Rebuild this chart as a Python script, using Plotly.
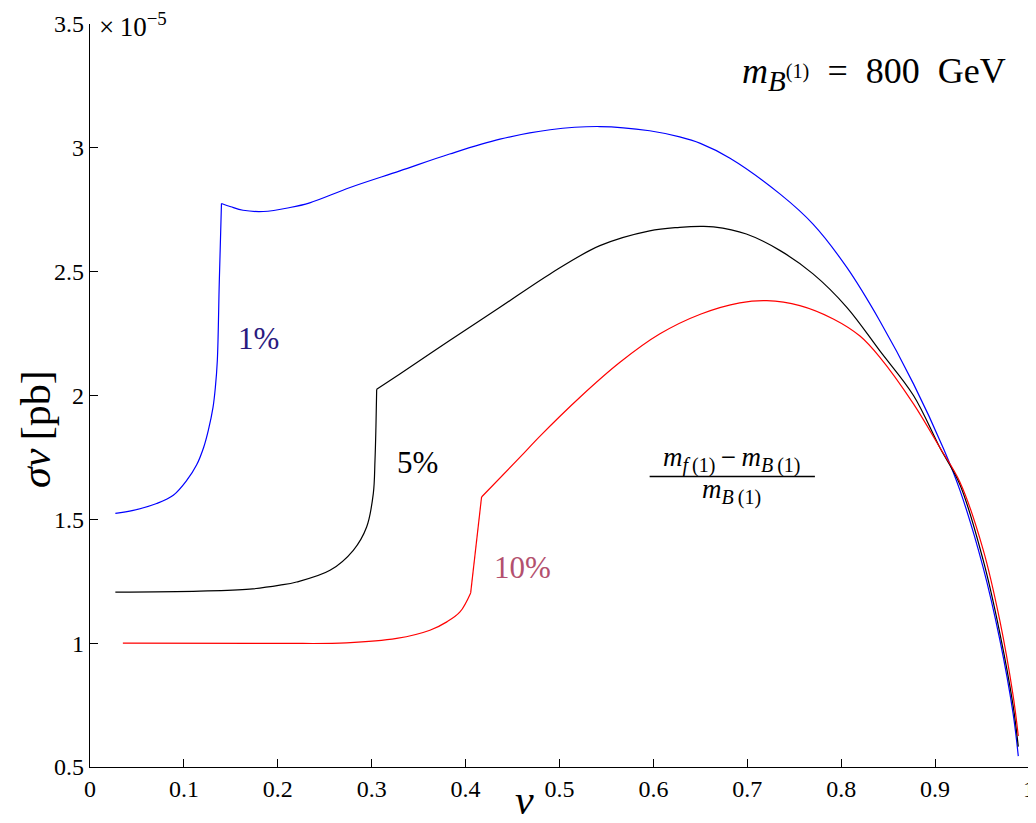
import plotly.graph_objects as go

# ---- data ----
v_1pct = [0.027, 0.046, 0.071, 0.0887, 0.103, 0.1136, 0.121, 0.126, 0.131, 0.1335, 0.1356, 0.1377,
          0.140, 0.150, 0.163, 0.1846, 0.213, 0.234, 0.277, 0.330, 0.383, 0.4366, 0.490, 0.543,
          0.596, 0.628, 0.65, 0.6816, 0.735, 0.770, 0.806, 0.841, 0.877, 0.909, 0.9265, 0.951,
          0.969, 0.983, 0.9886]
s_1pct = [1.524, 1.536, 1.564, 1.597, 1.657, 1.72, 1.79, 1.859, 1.952, 2.033, 2.141, 2.46,
          2.775, 2.762, 2.748, 2.743, 2.759, 2.778, 2.840, 2.907, 2.975, 3.035, 3.073, 3.086,
          3.069, 3.044, 3.018, 2.958, 2.813, 2.692, 2.517, 2.302, 2.047, 1.785, 1.617, 1.308,
          1.012, 0.717, 0.544]
kinks_1pct = [12]          # index of the sharp corner

v_5pct = [0.027, 0.117, 0.17, 0.2023, 0.220, 0.2556, 0.2804, 0.2946, 0.3017, 0.3035, 0.3045,
          0.3053, 0.330, 0.383, 0.4366, 0.490, 0.543, 0.596, 0.628, 0.65, 0.664, 0.699, 0.735,
          0.770, 0.806, 0.841, 0.877, 0.905, 0.9265, 0.951, 0.969, 0.983, 0.9886]
s_5pct = [1.206, 1.21, 1.218, 1.234, 1.247, 1.294, 1.375, 1.469, 1.604, 1.738, 1.872,
          2.025, 2.087, 2.222, 2.356, 2.491, 2.605, 2.665, 2.679, 2.683, 2.681, 2.652, 2.585,
          2.491, 2.356, 2.181, 2.0, 1.79, 1.64, 1.338, 1.04, 0.75, 0.582]
kinks_5pct = [11]

v_10pct = [0.035, 0.2023, 0.273, 0.3266, 0.362, 0.380, 0.394, 0.4054, 0.417, 0.458, 0.479,
           0.5218, 0.5644, 0.607, 0.6507, 0.692, 0.7207, 0.756, 0.7916, 0.82, 0.841, 0.877,
           0.905, 0.9265, 0.951, 0.969, 0.983, 0.9886]
s_10pct = [1.0, 0.999, 1.001, 1.019, 1.052, 1.086, 1.126, 1.203, 1.59, 1.751, 1.835,
           1.993, 2.134, 2.249, 2.329, 2.374, 2.383, 2.363, 2.309, 2.24, 2.155, 1.966,
           1.79, 1.65, 1.38, 1.09, 0.79, 0.625]
kinks_10pct = [7, 8]

x_ticks = [0, 0.1, 0.2, 0.3, 0.4, 0.5, 0.6, 0.7, 0.8, 0.9, 1]
x_ticktext = ["0", "0.1", "0.2", "0.3", "0.4", "0.5", "0.6", "0.7", "0.8", "0.9", "1"]
y_ticks = [0.5, 1, 1.5, 2, 2.5, 3, 3.5]
y_ticktext = ["0.5", "1", "1.5", "2", "2.5", "3", "3.5"]

FONT = "Liberation Serif, DejaVu Serif, serif"

fig = go.Figure()


def add_curve(vx, sy, kinks, col, nm):
    # draw smooth pieces between sharp corners (pieces share the corner point)
    cuts = [0] + kinks + [len(vx) - 1]
    for a, b in zip(cuts[:-1], cuts[1:]):
        fig.add_trace(go.Scatter(x=vx[a:b + 1], y=sy[a:b + 1], mode="lines",
                                 line=dict(color=col, width=1.2, shape="spline", smoothing=1.0),
                                 name=nm, showlegend=False, hoverinfo="x+y"))


add_curve(v_1pct, s_1pct, kinks_1pct, "#0000ff", "1%")
add_curve(v_5pct, s_5pct, kinks_5pct, "#000000", "5%")
add_curve(v_10pct, s_10pct, kinks_10pct, "#ff0000", "10%")


def big_sub(txt, px):
    return "<sub><span style='font-size:%dpx'>%s</span></sub>" % (px, txt)


num_text = ("<i>m</i>" + big_sub("<i>f</i>\u2009(1)", 20) + "\u2009\u2212\u2009<i>m</i>"
            + big_sub("<i>B</i>\u2009(1)", 20))
den_text = "<i>m</i>" + big_sub("<i>B</i>\u2009(1)", 20)
title_text = ("<i>m</i>" + big_sub("<i>B</i><sup>(1)</sup>", 29)
              + "\u2002=\u2002800\u2002GeV")

annots = [
    dict(x=0.179, y=2.23, text="1%", font=dict(size=31, color="#2a1a7f", family=FONT)),
    dict(x=0.349, y=1.73, text="5%", font=dict(size=31, color="#000000", family=FONT)),
    dict(x=0.461, y=1.306, text="10%", font=dict(size=31, color="#b3506e", family=FONT)),
    dict(x=0.683, y=1.74, text=num_text, font=dict(size=27, color="#000000", family=FONT)),
    dict(x=0.683, y=1.612, text=den_text, font=dict(size=27, color="#000000", family=FONT)),
    dict(x=0.835, y=3.30, text=title_text, font=dict(size=36, color="#000000", family=FONT)),
]
for a in annots:
    a.update(xref="x", yref="y", showarrow=False, xanchor="center", yanchor="middle")
    fig.add_annotation(**a)

# exponent multiplier at the top of the y axis
fig.add_annotation(xref="paper", yref="paper", x=0.007, y=0.998, xanchor="left", yanchor="middle",
                   text="\u00d7\u200910<sup>\u22125</sup>", showarrow=False,
                   font=dict(size=27, color="#000000", family=FONT))
# axis titles
fig.add_annotation(xref="paper", yref="paper", x=-0.0575, y=0.455, xanchor="center", yanchor="middle",
                   text="<i>\u03c3v</i>\u2009[pb]", textangle=-90, showarrow=False,
                   font=dict(size=42, color="#000000", family=FONT))
fig.add_annotation(xref="paper", yref="paper", x=0.463, y=-0.045, xanchor="center", yanchor="middle",
                   text="<i>v</i>", showarrow=False,
                   font=dict(size=42, color="#000000", family=FONT))

# fraction bar
fig.add_shape(type="line", xref="x", yref="y", x0=0.596, x1=0.772, y0=1.673, y1=1.673,
              line=dict(color="#000000", width=1.5))

# the page body adds an 8 px offset, so the figure is shrunk by that amount
fig.update_layout(
    width=1028, height=815,
    margin=dict(l=82, r=7, t=16, b=56, autoexpand=False),
    plot_bgcolor="white", paper_bgcolor="white",
    font=dict(family=FONT, size=24, color="#000000"),
    showlegend=False,
)
fig.update_xaxes(range=[0, 1], tickvals=x_ticks, ticktext=x_ticktext, ticks="inside", ticklen=8,
                 tickcolor="#000", showline=True, linecolor="#000", linewidth=1.2, mirror=False,
                 showgrid=False, zeroline=False, automargin=False,
                 tickfont=dict(size=24, family=FONT))
fig.update_yaxes(range=[0.5, 3.5], tickvals=y_ticks, ticktext=y_ticktext, ticks="inside", ticklen=8,
                 tickcolor="#000", showline=True, linecolor="#000", linewidth=1.2, mirror=False,
                 showgrid=False, zeroline=False, automargin=False,
                 tickfont=dict(size=24, family=FONT))

fig.write_html("out.html")
